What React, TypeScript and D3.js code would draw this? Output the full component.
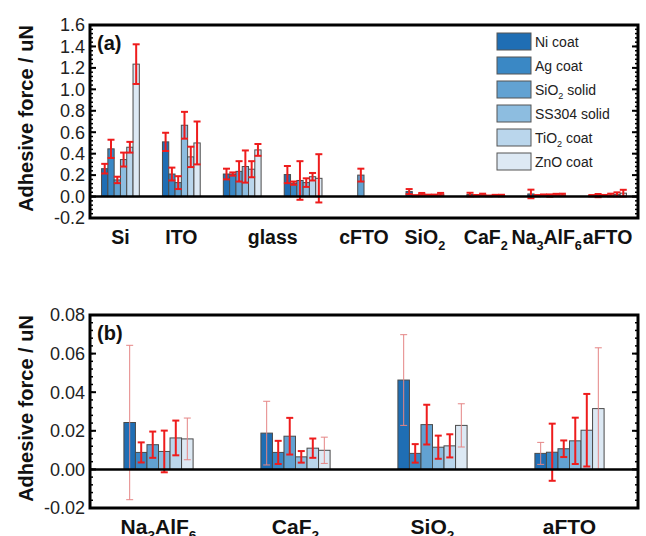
import React from 'react';
import * as d3 from 'd3';

// series (legend order), "_2" marks a subscript
const SERIES = ['Ni coat', 'Ag coat', 'SiO_2 solid', 'SS304 solid', 'TiO_2 coat', 'ZnO coat'];
const COLORS = ['#1f6eb4', '#3a88c5', '#62a2d2', '#8dbde0', '#bad6ec', '#dde9f4'];

// panel (a) groups
const A_GROUPS = ['Si', 'ITO', 'glass', 'glass-2', 'cFTO', 'SiO2', 'CaF2', 'Na3AlF6', 'aFTO'];
const A_LABELS: [string, string[]][] = [
  ['Si', ['Si']],
  ['ITO', ['ITO']],
  ['glass', ['glass', 'glass-2']],
  ['cFTO', ['cFTO']],
  ['SiO_2', ['SiO2']],
  ['CaF_2', ['CaF2']],
  ['Na_3AlF_6', ['Na3AlF6']],
  ['aFTO', ['aFTO']],
];

// mean values per group, one entry per series
const Si_MEAN = [0.26, 0.445, 0.155, 0.345, 0.46, 1.235];
const Si_ERR = [0.045, 0.085, 0.03, 0.065, 0.05, 0.185];
const ITO_MEAN = [0.51, 0.21, 0.13, 0.665, 0.37, 0.5];
const ITO_ERR = [0.085, 0.06, 0.06, 0.125, 0.095, 0.2];
const GLASS_MEAN = [0.21, 0.21, 0.235, 0.28, 0.255, 0.435];
const GLASS_ERR = [0.05, 0.015, 0.095, 0.15, 0.075, 0.055];
const GLASS2_MEAN = [0.205, 0.125, 0.15, 0.13, 0.185, 0.17];
const GLASS2_ERR = [0.08, 0.015, 0.18, 0.04, 0.035, 0.225];
const CFTO_MEAN = [null, null, 0.2, null, null, null];
const CFTO_ERR = [null, null, 0.06, null, null, null];
const NA_MEAN = [0.0243, 0.0088, 0.0128, 0.0093, 0.0163, 0.0158];
const NA_ERR = [0.04, 0.0052, 0.0068, 0.0108, 0.009, 0.0108];
const CAF_MEAN = [0.0188, 0.0088, 0.0172, 0.0065, 0.011, 0.0099];
const CAF_ERR = [0.0165, 0.006, 0.0095, 0.003, 0.005, 0.0068];
const SIO_MEAN = [0.0463, 0.0083, 0.0232, 0.0115, 0.0122, 0.0228];
const SIO_ERR = [0.0235, 0.0048, 0.0103, 0.006, 0.006, 0.0112];
const AFTO_MEAN = [0.0083, 0.0089, 0.0107, 0.0148, 0.0203, 0.0315];
const AFTO_ERR = [0.0057, 0.0148, 0.0043, 0.012, 0.0188, 0.0315];

const MEANS: Record<string, (number | null)[]> = {
  Si: Si_MEAN, ITO: ITO_MEAN, glass: GLASS_MEAN, 'glass-2': GLASS2_MEAN, cFTO: CFTO_MEAN,
  SiO2: SIO_MEAN, CaF2: CAF_MEAN, Na3AlF6: NA_MEAN, aFTO: AFTO_MEAN,
};
const ERRS: Record<string, (number | null)[]> = {
  Si: Si_ERR, ITO: ITO_ERR, glass: GLASS_ERR, 'glass-2': GLASS2_ERR, cFTO: CFTO_ERR,
  SiO2: SIO_ERR, CaF2: CAF_ERR, Na3AlF6: NA_ERR, aFTO: AFTO_ERR,
};

// panel (b) groups
const B_GROUPS = ['Na3AlF6', 'CaF2', 'SiO2', 'aFTO'];
const B_LABELS: [string, string[]][] = [
  ['Na_3AlF_6', ['Na3AlF6']],
  ['CaF_2', ['CaF2']],
  ['SiO_2', ['SiO2']],
  ['aFTO', ['aFTO']],
];
const B_THIN = ['Ni coat', 'ZnO coat'];

const FONT = '"Liberation Sans", Arial, sans-serif';

// "SiO_2" -> SiO with subscript 2
const Rich = ({ s, size, shift }: { s: string; size: number; shift: number }) => {
  const parts = s.split(/_(\d)/);
  const out: React.ReactNode[] = [];
  let down = false;
  parts.forEach((p, i) => {
    if (p === '') return;
    const sub = i % 2 === 1;
    let dy = 0;
    if (sub && !down) { dy = shift; down = true; }
    if (!sub && down) { dy = -shift; down = false; }
    out.push(
      <tspan key={i} dy={dy || undefined} fontSize={sub ? size * 0.65 : undefined}>{p}</tspan>
    );
  });
  return <>{out}</>;
};

type PanelProps = {
  x0: number; x1: number; y0: number; y1: number;
  domain: [number, number]; major: number; minor: number; digits: number;
  groups: string[]; labels: [string, string[]][]; frac: number; thin: string[];
  tag: string; labelSize: number;
};

const Panel = (p: PanelProps) => {
  const { x0, x1, y0, y1, domain, major, minor, digits, groups, labels, frac, thin, tag, labelSize } = p;
  const x = d3.scaleBand().domain(groups).range([x0, x1]).padding(0);
  const y = d3.scaleLinear().domain(domain).range([y1, y0]);
  const inner = d3.scaleBand().domain(SERIES).range([0, x.bandwidth() * frac]);
  const off = (x.bandwidth() * (1 - frac)) / 2;
  const nMaj = Math.round((domain[1] - domain[0]) / major);
  const nMin = Math.round((domain[1] - domain[0]) / minor);
  const majors = d3.range(nMaj + 1).map(i => domain[0] + i * major);
  const minors = d3.range(nMin + 1).map(i => domain[0] + i * minor);
  const cap = 3.5;
  return (
    <g>
      {/* bars */}
      {groups.map(g => SERIES.map((s, i) => {
        const v = MEANS[g][i];
        if (v == null) return null;
        const bx = (x(g) as number) + off + (inner(s) as number);
        return (
          <rect key={g + s} x={bx} y={y(Math.max(v, 0))} width={inner.bandwidth()}
            height={Math.abs(y(v) - y(0))} fill={COLORS[i]} stroke="#4a4a4a" strokeWidth={1} />
        );
      }))}
      {/* error bars */}
      {groups.map(g => SERIES.map((s, i) => {
        const v = MEANS[g][i];
        const e = ERRS[g][i];
        if (v == null || e == null) return null;
        const cx = (x(g) as number) + off + (inner(s) as number) + inner.bandwidth() / 2;
        const isThin = thin.includes(s);
        const col = isThin ? '#e58585' : '#ee1c1c';
        const sw = isThin ? 1 : 2;
        return (
          <g key={'e' + g + s} stroke={col} strokeWidth={sw}>
            <line x1={cx} x2={cx} y1={y(v - e)} y2={y(v + e)} />
            <line x1={cx - cap} x2={cx + cap} y1={y(v - e)} y2={y(v - e)} />
            <line x1={cx - cap} x2={cx + cap} y1={y(v + e)} y2={y(v + e)} />
          </g>
        );
      }))}
      {/* zero line */}
      <line x1={x0} x2={x1} y1={y(0)} y2={y(0)} stroke="#000" strokeWidth={2.5} />
      {/* ticks on left and right, inward */}
      {minors.map((t, i) => (
        <g key={'m' + i} stroke="#000" strokeWidth={1.5}>
          <line x1={x0} x2={x0 + 3} y1={y(t)} y2={y(t)} />
          <line x1={x1} x2={x1 - 3} y1={y(t)} y2={y(t)} />
        </g>
      ))}
      {majors.map((t, i) => (
        <g key={'M' + i}>
          <line x1={x0} x2={x0 + 6} y1={y(t)} y2={y(t)} stroke="#000" strokeWidth={2} />
          <line x1={x1} x2={x1 - 6} y1={y(t)} y2={y(t)} stroke="#000" strokeWidth={2} />
          <text x={x0 - 5} y={y(t)} dy="0.35em" textAnchor="end" fontSize={18}
            fontFamily={FONT} fill="#222">{t.toFixed(digits)}</text>
        </g>
      ))}
      {/* frame */}
      <rect x={x0} y={y0} width={x1 - x0} height={y1 - y0} fill="none" stroke="#000" strokeWidth={3} />
      {/* category labels */}
      {labels.map(([lab, keys]) => {
        const cx = d3.mean(keys, k => (x(k) as number) + x.bandwidth() / 2) as number;
        return (
          <text key={lab} x={cx} y={y1 + 26} textAnchor="middle" fontSize={labelSize} fontWeight="bold"
            fontFamily={FONT} fill="#111"><Rich s={lab} size={labelSize} shift={6} /></text>
        );
      })}
      <text x={x0 + 7} y={y0 + 25} fontSize={20} fontWeight="bold" fontFamily={FONT} fill="#111">{tag}</text>
      <text transform={`translate(33,${(y0 + y1) / 2 - 3}) rotate(-90)`} textAnchor="middle"
        fontSize={20} fontWeight="bold" fontFamily={FONT} fill="#111">Adhesive force / uN</text>
    </g>
  );
};

const Legend = ({ x0, y0 }: { x0: number; y0: number }) => (
  <g>
    {SERIES.map((s, i) => (
      <g key={s} transform={`translate(${x0},${y0 + i * 24})`}>
        <rect width={34} height={17} fill={COLORS[i]} stroke="#555" strokeWidth={1} />
        <text x={38} y={14} fontSize={14} fontFamily={FONT} fill="#222"><Rich s={s} size={14} shift={4} /></text>
      </g>
    ))}
  </g>
);

export default function App() {
  return (
    <svg width={646} height={536} style={{ position: 'absolute', left: 0, top: 0, background: '#fff' }}>
      <Panel x0={90} x1={638} y0={25} y1={218} domain={[-0.2, 1.6]} major={0.2} minor={0.04}
        digits={1} groups={A_GROUPS} labels={A_LABELS} frac={0.62} thin={[]} tag="(a)" labelSize={19.5} />
      <Legend x0={497} y0={33} />
      <Panel x0={90} x1={638} y0={315} y1={508} domain={[-0.02, 0.08]} major={0.02} minor={0.004}
        digits={2} groups={B_GROUPS} labels={B_LABELS} frac={0.505} thin={B_THIN} tag="(b)" labelSize={21} />
    </svg>
  );
}
